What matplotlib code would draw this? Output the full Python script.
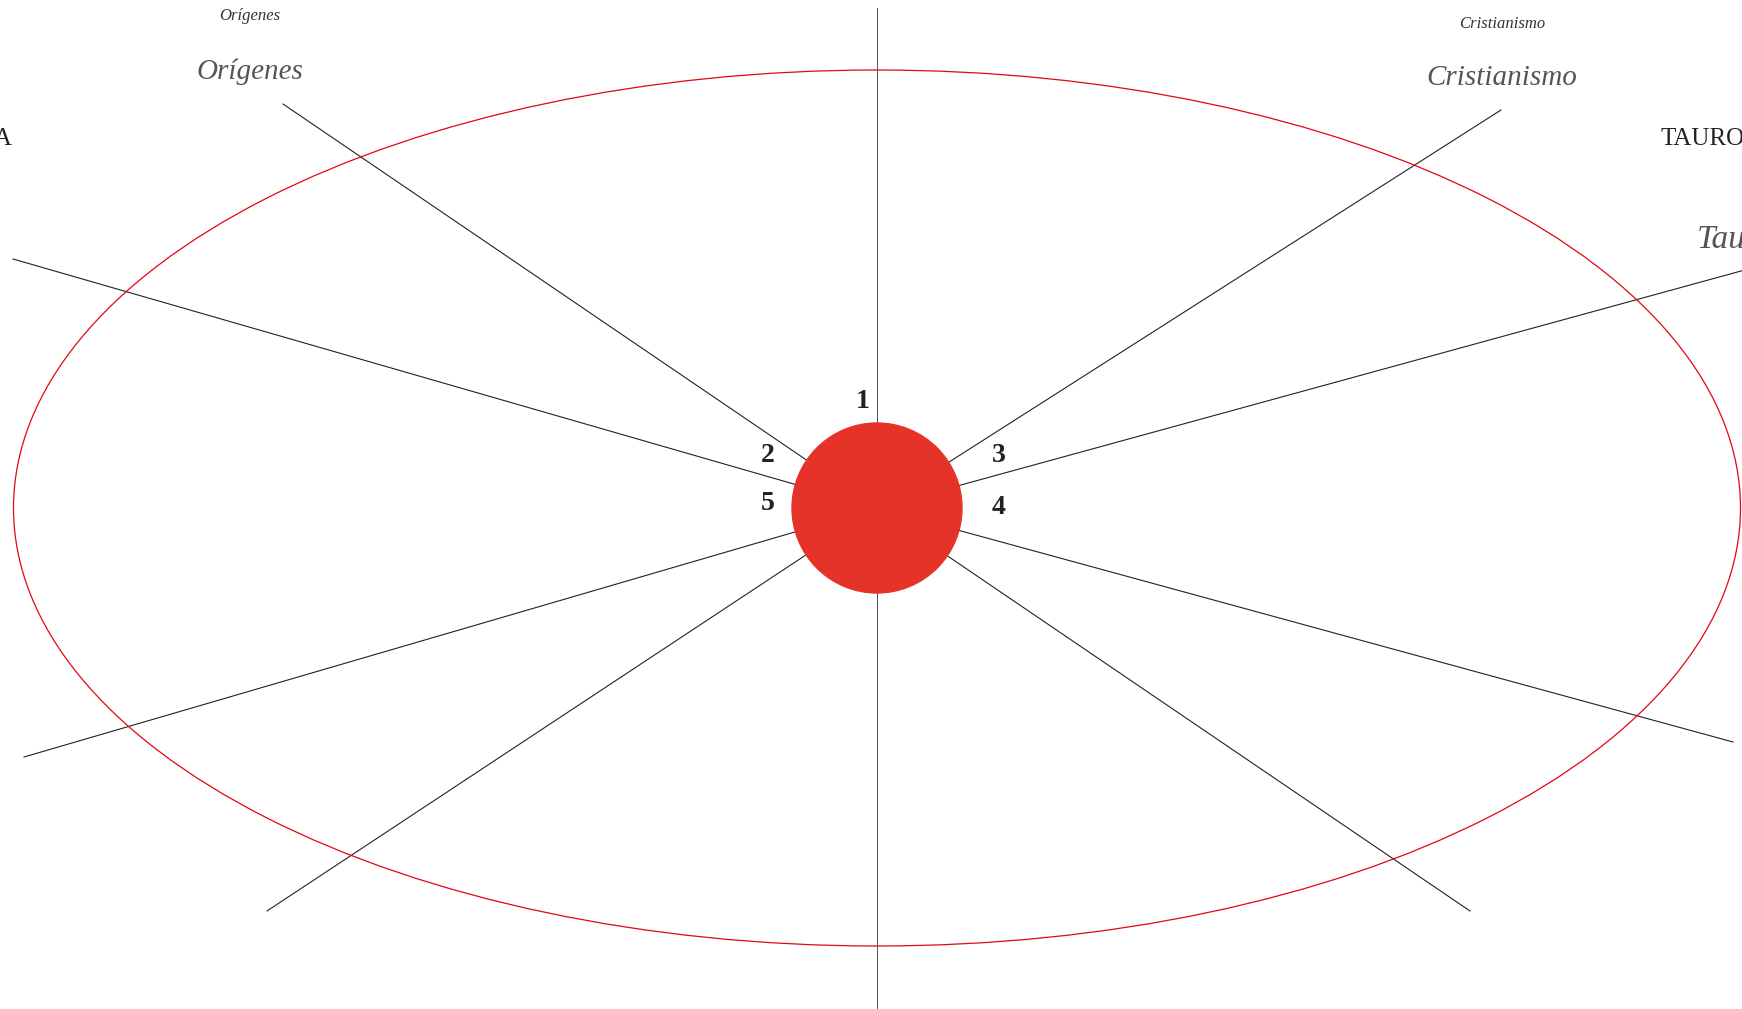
import matplotlib.pyplot as plt
from matplotlib.patches import Ellipse, Circle

# coordenadas en pixeles de la imagen (origen arriba a la izquierda)
W, H = 1742, 1009
centro = (877, 508)
radio_sol = 85
elipse_ancho = 1727
elipse_alto = 876

# extremos de los radios
radios_x = [283, 13, 24, 267, 1470, 1733, 1752, 1501]
radios_y = [104, 259, 757, 911, 911, 742, 268, 110]

# eje vertical
eje_y = [8, 1009]

# numeros alrededor del sol
numeros = ["1", "2", "3", "4", "5"]
numeros_x = [863, 768, 999, 999, 768]
numeros_y = [401, 455, 455, 508, 503]

# etiquetas
etiquetas = ["Orígenes", "Cristianismo"]
etiquetas_x = [250, 1502]
etiquetas_y = [16, 24]
script_y = [72, 78]

fig = plt.figure(figsize=(W / 100, H / 100), dpi=100)
ax = fig.add_axes([0, 0, 1, 1])
ax.set_xlim(0, W)
ax.set_ylim(H, 0)
ax.axis("off")

ax.add_patch(Ellipse(centro, elipse_ancho, elipse_alto, fill=False,
                     edgecolor="#e30613", linewidth=0.9, zorder=2))

for x, y in zip(radios_x, radios_y):
    ax.plot([centro[0], x], [centro[1], y], color="#222222", linewidth=0.8, zorder=1)

ax.plot([centro[0], centro[0]], eje_y, color="#555555", linewidth=0.7, zorder=1)

ax.add_patch(Circle(centro, radio_sol, color="#e6332a", zorder=3))

for t, x, y in zip(numeros, numeros_x, numeros_y):
    ax.text(x, y, t, fontsize=20, fontweight="bold", family="Liberation Serif",
            color="#222222", ha="center", va="center")

for t, x, y, ys in zip(etiquetas, etiquetas_x, etiquetas_y, script_y):
    ax.text(x, y, t, fontsize=12, style="italic", family="Liberation Serif",
            color="#333333", ha="center", va="center")
    ax.text(x, ys, t, fontsize=21, style="italic", family="Liberation Serif",
            color="#555555", ha="center", va="center")

# palabras cortadas en los bordes
ax.text(1660, 139, "TAUROMAQUIA", fontsize=18, family="Liberation Serif",
        color="#222222", ha="left", va="center")
ax.text(1697, 240, "Tauromaquia", fontsize=24, style="italic",
        family="Liberation Serif", color="#555555", ha="left", va="center")
ax.text(12, 139, "FILOSOFÍA", fontsize=18, family="Liberation Serif",
        color="#222222", ha="right", va="center")

fig.savefig("out.png", dpi=100)
